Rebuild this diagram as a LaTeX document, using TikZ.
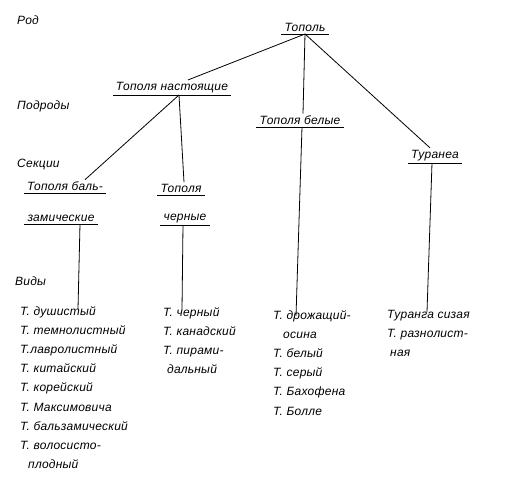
\documentclass[tikz,border=0pt]{standalone}
\usepackage{fontspec}
\setmainfont{Liberation Sans}[LetterSpace=2]
\usepackage{tikz}
\usetikzlibrary{positioning}
\tikzset{
    taxon/.style={font=\fontsize{12}{14}\selectfont\itshape, inner xsep=3pt, inner ysep=2pt, anchor=south},
    level/.style={font=\fontsize{12}{14}\selectfont\itshape, anchor=west, inner sep=0pt},
    species/.style={font=\fontsize{12}{19.2}\selectfont\itshape, align=left, anchor=north west, inner sep=0pt},
    line/.style={line width=0.8pt},
    underline/.style={line width=0.8pt}
}
\begin{document}
\begin{tikzpicture}[x=1pt, y=-1pt]
    \useasboundingbox (0,0) rectangle (506,478);

    % Levels
    \node[level] (lvl_genus) at (17,20) {Род};
    \node[level] (lvl_subgenus) at (17,106) {Подроды};
    \node[level] (lvl_section) at (17,165) {Секции};
    \node[level] (lvl_species) at (15,281) {Виды};

    % Genus and subgenera
    \node[taxon] (genus) at (305,34) {Тополь};
    \node[taxon] (sub_true) at (172,95) {Тополя настоящие};
    \node[taxon] (sub_white) at (300,127) {Тополя белые};
    \node[taxon] (sub_turanga) at (435,163) {Туранеа};

    % Sections
    \node[taxon] (sec_balsam) at (65,193) {Тополя баль-};
    \node[taxon] (sec_balsam_b) at (61,224) {замические};
    \node[taxon] (sec_black) at (181,195) {Тополя};
    \node[taxon] (sec_black_b) at (185,225) {черные};

    % Species
    \node[species] (sp_balsam) at (20,306) {Т. душистый\\Т. темнолистный\\Т.лавролистный\\Т. китайский\\Т. корейский\\Т. Максимовича\\Т. бальзамический\\Т. волосисто-\\\hspace*{8pt}плодный};
    \node[species] (sp_black) at (163,307) {Т. черный\\Т. канадский\\Т. пирами-\\\hspace*{4pt}дальный};
    \node[species] (sp_white) at (273,310) {Т. дрожащий-\\\hspace*{10pt}осина\\Т. белый\\Т. серый\\Т. Бахофена\\Т. Болле};
    \node[species] (sp_turanga) at (387,310) {Туранга сизая\\Т. разнолист-\\\hspace*{3pt}ная};

    % Underlines
    \foreach \n in {genus, sub_true, sub_white, sub_turanga, sec_balsam, sec_balsam_b, sec_black, sec_black_b}
        \draw[underline] (\n.south west) -- (\n.south east);

    % Lines
    \draw[line] (genus.south) -- ([xshift=16pt]sub_true.north);
    \draw[line] (genus.south) -- ([xshift=3pt]sub_white.north);
    \draw[line] (genus.south) -- ([xshift=-5pt]sub_turanga.north);
    \draw[line] ([xshift=7pt]sub_true.south) -- ([xshift=20pt]sec_balsam.north);
    \draw[line] ([xshift=7pt]sub_true.south) -- ([xshift=3pt]sec_black.north);
    \draw[line] ([xshift=19pt]sec_balsam_b.south) -- ([xshift=17pt, yshift=-3pt]sec_balsam_b.south |- sp_balsam.north);
    \draw[line] ([xshift=-2pt]sec_black_b.south) -- ([xshift=-3pt, yshift=-3pt]sec_black_b.south |- sp_black.north);
    \draw[line] ([xshift=2pt]sub_white.south) -- ([xshift=-4pt, yshift=-6pt]sub_white.south |- sp_white.north);
    \draw[line] ([xshift=-3pt]sub_turanga.south) -- ([xshift=-8pt, yshift=-2pt]sub_turanga.south |- sp_turanga.north);
\end{tikzpicture}
\end{document}
